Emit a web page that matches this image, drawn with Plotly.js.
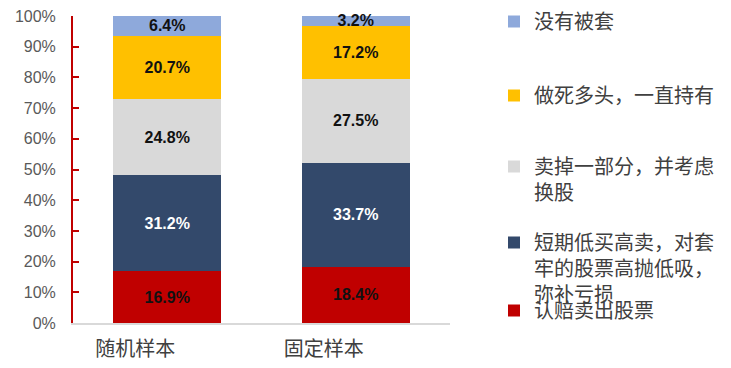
<!DOCTYPE html>
<html>
<head>
<meta charset="utf-8">
<script src="https://cdn.plot.ly/plotly-3.0.1.min.js"></script>
<style>html,body{margin:0;padding:0;background:#fff;}#chart{width:731px;height:368px;}</style>
</head>
<body>
<div id="chart"></div>
<script>
const categories = ["随机样本", "固定样本"];
const seriesNames = [
  "认赔卖出股票",
  "短期低买高卖，对套<br>牢的股票高抛低吸，<br>弥补亏损",
  "卖掉一部分，并考虑<br>换股",
  "做死多头，一直持有",
  "没有被套"
];
const lossSell = [16.9, 18.4];
const shortTrade = [31.2, 33.7];
const sellPart = [24.8, 27.5];
const holdLong = [20.7, 17.2];
const notTrapped = [6.4, 3.2];
const yTicks = [0, 10, 20, 30, 40, 50, 60, 70, 80, 90, 100];

const seriesValues = [lossSell, shortTrade, sellPart, holdLong, notTrapped];
const colors = ["#C00000", "#33496B", "#D9D9D9", "#FFC000", "#8EA9DB"];
const labelColors = ["#111111", "#FFFFFF", "#111111", "#111111", "#111111"];
const legendIds = ["legend5", "legend4", "legend3", "legend2", "legend"];
const legendY = [311, 243, 167, 96, 22]; // pixel centres of first line

const L = 73, R = 450, T = 16, B = 323;
const traces = seriesValues.map((vals, i) => ({
  type: "bar",
  x: categories,
  y: vals,
  name: seriesNames[i],
  legend: legendIds[i],
  marker: {color: colors[i], line: {width: 0}},
  texttemplate: "%{y:.1f}%",
  textposition: "inside",
  insidetextanchor: "middle",
  constraintext: "none",
  textangle: 0,
  textfont: {family: "Liberation Sans, Arial, sans-serif", size: 16, color: labelColors[i], weight: "bold"},
  hoverinfo: "skip",
  cliponaxis: false
}));

const layout = {
  width: 731, height: 368,
  margin: {l: L, r: 731 - R, t: T, b: 368 - B, autoexpand: false},
  paper_bgcolor: "#fff", plot_bgcolor: "#fff",
  barmode: "stack",
  bargap: 0.427,
  font: {family: "Liberation Sans, Noto Sans CJK SC, sans-serif", color: "#404040"},
  xaxis: {
    type: "category",
    showline: true, linecolor: "#D9D9D9", linewidth: 1.5,
    showgrid: false, zeroline: false, ticks: "",
    tickfont: {family: "Noto Sans CJK SC, sans-serif", size: 20, color: "#404040"},
    ticklabelstandoff: 7,
    ticklabelshift: -32,
    automargin: false
  },
  yaxis: {
    range: [0, 100], tickvals: yTicks, ticktext: yTicks.map(v => v + "%"),
    showline: true, linecolor: "#C00000", linewidth: 2,
    ticks: "inside", ticklen: 6, tickwidth: 2, tickcolor: "#C00000",
    showgrid: false, zeroline: false,
    tickfont: {family: "Liberation Sans, Arial, sans-serif", size: 16, color: "#595959"},
    ticklabelstandoff: 12,
    automargin: false
  },
  showlegend: true
};

const legendX = (494 - L) / (R - L);
legendIds.forEach((id, i) => {
  layout[id] = {
    x: legendX, xanchor: "left",
    y: (B - (legendY[i] - 20)) / (B - T), yanchor: "top",
    valign: "top",
    bgcolor: "rgba(0,0,0,0)", borderwidth: 0,
    font: {family: "Noto Sans CJK SC, sans-serif", size: 20, color: "#404040"},
    itemclick: false, itemdoubleclick: false
  };
});

Plotly.newPlot("chart", traces, layout, {displayModeBar: false, staticPlot: true});
</script>
</body>
</html>
